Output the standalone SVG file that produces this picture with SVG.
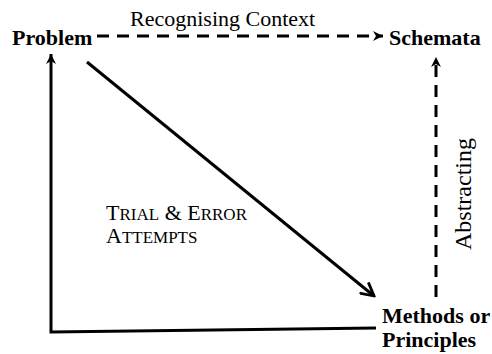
<svg xmlns="http://www.w3.org/2000/svg" width="492" height="354" viewBox="0 0 492 354">
<style>
.node{font-family:"Liberation Serif","Times New Roman",serif;font-weight:bold;font-size:22px;fill:#000}
.lbl{font-family:"Liberation Serif","Times New Roman",serif;font-size:22px;fill:#000}
.sc{font-family:"Liberation Serif","Times New Roman",serif;font-size:22px;fill:#000}
.sm{font-size:17px}
.ln{fill:none;stroke:#000;stroke-width:3}
.dash{stroke-dasharray:12 8}
</style>
<defs>
<marker id="ah" markerUnits="userSpaceOnUse" viewBox="0 0 12 12" refX="11" refY="6" markerWidth="12" markerHeight="12" orient="auto">
<path d="M1,1 L11,6 L1,11 L4,6 Z" fill="#000"/>
</marker>
<marker id="ah2" markerUnits="userSpaceOnUse" viewBox="0 0 16 16" refX="14" refY="8" markerWidth="16" markerHeight="16" orient="auto">
<path d="M1,1 L14,8 L1,15" fill="none" stroke="#000" stroke-width="2.8"/>
</marker>
</defs>
<g id="connectors">
<line class="ln dash" x1="97" y1="36" x2="383" y2="36" marker-end="url(#ah)"/>
<line class="ln dash" x1="436" y1="297" x2="436" y2="57" marker-end="url(#ah)"/>
<line class="ln" x1="87" y1="62" x2="374" y2="296" marker-end="url(#ah2)"/>
<polyline class="ln" points="376,328 51,332 51,54" marker-end="url(#ah)"/>
<text class="lbl" x="130" y="26">Recognising Context</text>
<text class="lbl" transform="translate(471,250) rotate(-90)" style="font-size:24px">Abstracting</text>
<text class="sc" x="106" y="220">T<tspan class="sm">RIAL</tspan> &amp; E<tspan class="sm">RROR</tspan></text>
<text class="sc" x="106" y="243">A<tspan class="sm">TTEMPTS</tspan></text>
</g>
<g id="problem"><text class="node" x="12" y="45">Problem</text></g>
<g id="schemata"><text class="node" x="389" y="45">Schemata</text></g>
<g id="methods"><text class="node" x="382" y="323">Methods or</text><text class="node" x="382" y="347">Principles</text></g>
</svg>
